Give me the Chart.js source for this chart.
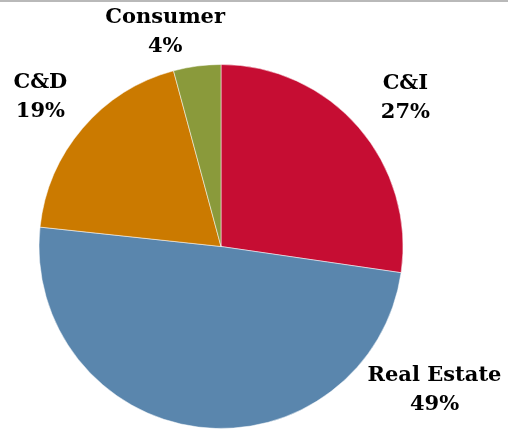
<!DOCTYPE html>
<html>
<head>
<meta charset="utf-8">
<script src="https://cdn.jsdelivr.net/npm/chart.js@4.4.0/dist/chart.umd.min.js"></script>
<style>
    html, body { margin: 0; padding: 0; background: #ffffff; overflow: hidden; }
    #wrap { width: 508px; height: 429px; position: relative; }
    #topRule { position: absolute; left: 0; top: 0; width: 508px; height: 2px; background: #b9b9b9; }
</style>
</head>
<body>
<div id="wrap"><canvas id="loanChart" width="508" height="429"></canvas><div id="topRule"></div></div>
<script>
// Loan mix
const categories = ['C&I', 'Real Estate', 'C&D', 'Consumer'];
const shares = [27.3, 49.4, 19.1, 4.2];
const sliceColors = ['#C60D33', '#5A86AD', '#CB7A00', '#8A9A3B'];

// where each label sits: [angle from 12 o'clock in degrees, distance as multiple of radius]
const labelSpots = [[51.2, 1.30], [124, 1.415], [309.6, 1.288], [345.4, 1.217]];

const outsideLabels = {
    id: 'outsideLabels',
    afterDatasetsDraw(chart) {
        const ctx = chart.ctx;
        const arcs = chart.getDatasetMeta(0).data;
        ctx.save();
        ctx.font = 'bold 21px "DejaVu Serif"';
        ctx.fillStyle = '#000000';
        ctx.textAlign = 'center';
        ctx.textBaseline = 'middle';
        arcs.forEach(function(arc, i) {
            const a = labelSpots[i][0] * Math.PI / 180;
            const d = arc.outerRadius * labelSpots[i][1];
            const x = arc.x + Math.sin(a) * d;
            const y = arc.y - Math.cos(a) * d;
            ctx.fillText(categories[i], x, y - 14.5);
            ctx.fillText(Math.round(shares[i]) + '%', x, y + 14.5);
        });
        ctx.restore();
    }
};

const ctx = document.getElementById('loanChart').getContext('2d');
new Chart(ctx, {
    type: 'pie',
    data: {
        labels: categories,
        datasets: [{
            data: shares,
            backgroundColor: sliceColors,
            borderColor: 'rgba(255, 255, 255, 0.5)',
            borderWidth: 1
        }]
    },
    options: {
        responsive: false,
        animation: false,
        layout: {
            padding: { left: 38, right: 104, top: 64, bottom: 0 }
        },
        plugins: {
            legend: { display: false },
            tooltip: { enabled: false }
        }
    },
    plugins: [outsideLabels]
});
</script>
</body>
</html>
